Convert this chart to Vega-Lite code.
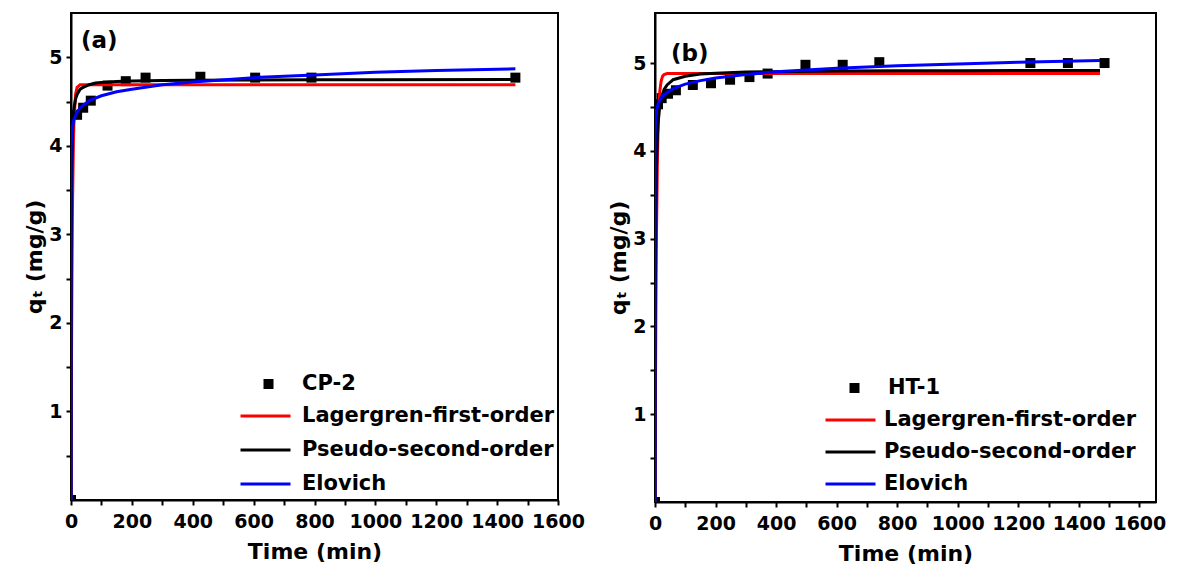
{
  "$schema": "https://vega.github.io/schema/vega-lite/v6.json",
  "background": "white",
  "padding": {"left": 22, "top": 12, "right": 5, "bottom": 5},
  "config": {
    "view": {"stroke": "black", "strokeWidth": 2},
    "axis": {"grid": false, "domainColor": "black", "domainWidth": 2, "tickColor": "black", "tickWidth": 2, "tickSize": 5,
      "labelFont": "DejaVu Sans", "labelFontSize": 19, "labelFontWeight": "bold", "labelColor": "black", "labelPadding": 4,
      "titleFont": "DejaVu Sans", "titleFontSize": 22, "titleFontWeight": "bold", "titleColor": "black",
      "labelFlush": false, "labelOverlap": false},
    "axisY": {"titlePadding": 2},
    "axisX": {"labelPadding": 7, "titlePadding": 10},
    "legend": {"labelFont": "DejaVu Sans", "labelFontSize": 21, "labelFontWeight": "bold", "labelColor": "black", "labelLimit": 0, "clipHeight": 20, "rowPadding": 13},
    "title": {"font": "DejaVu Sans", "fontSize": 23, "fontWeight": "bold", "color": "black"}
  },
  "datasets": {
    "a_pts": [
      {"t": 0, "q": 0, "series": "CP-2"}, {"t": 20, "q": 4.35, "series": "CP-2"}, {"t": 40, "q": 4.43, "series": "CP-2"},
      {"t": 65, "q": 4.51, "series": "CP-2"}, {"t": 120, "q": 4.68, "series": "CP-2"}, {"t": 180, "q": 4.73, "series": "CP-2"},
      {"t": 245, "q": 4.77, "series": "CP-2"}, {"t": 425, "q": 4.78, "series": "CP-2"}, {"t": 605, "q": 4.77, "series": "CP-2"},
      {"t": 790, "q": 4.77, "series": "CP-2"}, {"t": 1460, "q": 4.77, "series": "CP-2"}
    ],
    "a_fit": [
      {"t": 0, "q": 0, "model": "Lagergren-first-order"}, {"t": 1, "q": 1.04, "model": "Lagergren-first-order"},
      {"t": 2, "q": 1.85, "model": "Lagergren-first-order"}, {"t": 3, "q": 2.47, "model": "Lagergren-first-order"},
      {"t": 5, "q": 3.35, "model": "Lagergren-first-order"}, {"t": 8, "q": 4.06, "model": "Lagergren-first-order"},
      {"t": 10, "q": 4.30, "model": "Lagergren-first-order"}, {"t": 15, "q": 4.58, "model": "Lagergren-first-order"},
      {"t": 20, "q": 4.66, "model": "Lagergren-first-order"}, {"t": 30, "q": 4.69, "model": "Lagergren-first-order"},
      {"t": 1460, "q": 4.69, "model": "Lagergren-first-order"},
      {"t": 0, "q": 0, "model": "Pseudo-second-order"}, {"t": 1, "q": 2.74, "model": "Pseudo-second-order"},
      {"t": 2, "q": 3.48, "model": "Pseudo-second-order"}, {"t": 3, "q": 3.82, "model": "Pseudo-second-order"},
      {"t": 5, "q": 4.14, "model": "Pseudo-second-order"}, {"t": 8, "q": 4.35, "model": "Pseudo-second-order"},
      {"t": 10, "q": 4.43, "model": "Pseudo-second-order"}, {"t": 15, "q": 4.53, "model": "Pseudo-second-order"},
      {"t": 20, "q": 4.58, "model": "Pseudo-second-order"}, {"t": 30, "q": 4.64, "model": "Pseudo-second-order"},
      {"t": 40, "q": 4.66, "model": "Pseudo-second-order"}, {"t": 60, "q": 4.69, "model": "Pseudo-second-order"},
      {"t": 80, "q": 4.71, "model": "Pseudo-second-order"}, {"t": 100, "q": 4.715, "model": "Pseudo-second-order"},
      {"t": 150, "q": 4.727, "model": "Pseudo-second-order"}, {"t": 200, "q": 4.733, "model": "Pseudo-second-order"},
      {"t": 300, "q": 4.739, "model": "Pseudo-second-order"}, {"t": 400, "q": 4.741, "model": "Pseudo-second-order"},
      {"t": 600, "q": 4.744, "model": "Pseudo-second-order"}, {"t": 800, "q": 4.746, "model": "Pseudo-second-order"},
      {"t": 1000, "q": 4.747, "model": "Pseudo-second-order"}, {"t": 1460, "q": 4.748, "model": "Pseudo-second-order"},
      {"t": 0, "q": 0, "model": "Elovich"}, {"t": 0.05, "q": 3.70, "model": "Elovich"}, {"t": 0.2, "q": 3.86, "model": "Elovich"},
      {"t": 0.5, "q": 3.96, "model": "Elovich"}, {"t": 1, "q": 4.04, "model": "Elovich"}, {"t": 2, "q": 4.12, "model": "Elovich"},
      {"t": 5, "q": 4.22, "model": "Elovich"}, {"t": 10, "q": 4.30, "model": "Elovich"}, {"t": 20, "q": 4.38, "model": "Elovich"},
      {"t": 30, "q": 4.43, "model": "Elovich"}, {"t": 60, "q": 4.51, "model": "Elovich"}, {"t": 100, "q": 4.565, "model": "Elovich"},
      {"t": 150, "q": 4.61, "model": "Elovich"}, {"t": 200, "q": 4.64, "model": "Elovich"}, {"t": 300, "q": 4.69, "model": "Elovich"},
      {"t": 400, "q": 4.72, "model": "Elovich"}, {"t": 600, "q": 4.77, "model": "Elovich"}, {"t": 800, "q": 4.80, "model": "Elovich"},
      {"t": 1000, "q": 4.83, "model": "Elovich"}, {"t": 1200, "q": 4.85, "model": "Elovich"}, {"t": 1460, "q": 4.87, "model": "Elovich"}
    ],
    "b_pts": [
      {"t": 0, "q": 0, "series": "HT-1"}, {"t": 10, "q": 4.53, "series": "HT-1"}, {"t": 22, "q": 4.60, "series": "HT-1"},
      {"t": 43, "q": 4.65, "series": "HT-1"}, {"t": 69, "q": 4.69, "series": "HT-1"}, {"t": 125, "q": 4.75, "series": "HT-1"},
      {"t": 185, "q": 4.77, "series": "HT-1"}, {"t": 248, "q": 4.81, "series": "HT-1"}, {"t": 312, "q": 4.84, "series": "HT-1"},
      {"t": 372, "q": 4.88, "series": "HT-1"}, {"t": 497, "q": 4.98, "series": "HT-1"}, {"t": 620, "q": 4.98, "series": "HT-1"},
      {"t": 741, "q": 5.01, "series": "HT-1"}, {"t": 1240, "q": 5.00, "series": "HT-1"}, {"t": 1364, "q": 5.00, "series": "HT-1"},
      {"t": 1485, "q": 5.00, "series": "HT-1"}
    ],
    "b_fit": [
      {"t": 0, "q": 0, "model": "Lagergren-first-order"}, {"t": 1, "q": 0.88, "model": "Lagergren-first-order"},
      {"t": 2, "q": 1.61, "model": "Lagergren-first-order"}, {"t": 3, "q": 2.20, "model": "Lagergren-first-order"},
      {"t": 5, "q": 3.08, "model": "Lagergren-first-order"}, {"t": 8, "q": 3.90, "model": "Lagergren-first-order"},
      {"t": 10, "q": 4.22, "model": "Lagergren-first-order"}, {"t": 13, "q": 4.52, "model": "Lagergren-first-order"},
      {"t": 16, "q": 4.68, "model": "Lagergren-first-order"}, {"t": 20, "q": 4.79, "model": "Lagergren-first-order"},
      {"t": 25, "q": 4.85, "model": "Lagergren-first-order"}, {"t": 30, "q": 4.87, "model": "Lagergren-first-order"},
      {"t": 40, "q": 4.88, "model": "Lagergren-first-order"}, {"t": 1470, "q": 4.88, "model": "Lagergren-first-order"},
      {"t": 0, "q": 0, "model": "Pseudo-second-order"}, {"t": 1, "q": 2.03, "model": "Pseudo-second-order"},
      {"t": 2, "q": 2.87, "model": "Pseudo-second-order"}, {"t": 3, "q": 3.33, "model": "Pseudo-second-order"},
      {"t": 5, "q": 3.83, "model": "Pseudo-second-order"}, {"t": 8, "q": 4.17, "model": "Pseudo-second-order"},
      {"t": 10, "q": 4.31, "model": "Pseudo-second-order"}, {"t": 15, "q": 4.49, "model": "Pseudo-second-order"},
      {"t": 20, "q": 4.59, "model": "Pseudo-second-order"}, {"t": 30, "q": 4.70, "model": "Pseudo-second-order"},
      {"t": 40, "q": 4.75, "model": "Pseudo-second-order"}, {"t": 60, "q": 4.81, "model": "Pseudo-second-order"},
      {"t": 80, "q": 4.83, "model": "Pseudo-second-order"}, {"t": 100, "q": 4.85, "model": "Pseudo-second-order"},
      {"t": 150, "q": 4.874, "model": "Pseudo-second-order"}, {"t": 200, "q": 4.885, "model": "Pseudo-second-order"},
      {"t": 300, "q": 4.897, "model": "Pseudo-second-order"}, {"t": 400, "q": 4.902, "model": "Pseudo-second-order"},
      {"t": 600, "q": 4.908, "model": "Pseudo-second-order"}, {"t": 800, "q": 4.911, "model": "Pseudo-second-order"},
      {"t": 1000, "q": 4.913, "model": "Pseudo-second-order"}, {"t": 1470, "q": 4.915, "model": "Pseudo-second-order"},
      {"t": 0, "q": 0, "model": "Elovich"}, {"t": 0.05, "q": 4.00, "model": "Elovich"}, {"t": 0.2, "q": 4.14, "model": "Elovich"},
      {"t": 0.5, "q": 4.23, "model": "Elovich"}, {"t": 1, "q": 4.30, "model": "Elovich"}, {"t": 2, "q": 4.37, "model": "Elovich"},
      {"t": 5, "q": 4.46, "model": "Elovich"}, {"t": 10, "q": 4.53, "model": "Elovich"}, {"t": 20, "q": 4.60, "model": "Elovich"},
      {"t": 30, "q": 4.64, "model": "Elovich"}, {"t": 60, "q": 4.71, "model": "Elovich"}, {"t": 100, "q": 4.76, "model": "Elovich"},
      {"t": 150, "q": 4.80, "model": "Elovich"}, {"t": 200, "q": 4.83, "model": "Elovich"}, {"t": 300, "q": 4.87, "model": "Elovich"},
      {"t": 400, "q": 4.90, "model": "Elovich"}, {"t": 600, "q": 4.94, "model": "Elovich"}, {"t": 800, "q": 4.97, "model": "Elovich"},
      {"t": 1000, "q": 4.99, "model": "Elovich"}, {"t": 1200, "q": 5.01, "model": "Elovich"}, {"t": 1470, "q": 5.03, "model": "Elovich"}
    ]
  },
  "spacing": 20,
  "resolve": {
    "scale": {"x": "independent", "y": "independent", "color": "independent", "shape": "independent"},
    "legend": {"color": "independent", "shape": "independent"}
  },
  "hconcat": [
    {
      "width": 487, "height": 487,
      "title": {"text": "(a)", "anchor": "start", "frame": "group", "offset": -40, "dx": 10},
      "encoding": {
        "x": {"field": "t", "type": "quantitative", "scale": {"domain": [0, 1600], "nice": false},
          "axis": {"title": "Time (min)", "values": [0,100,200,300,400,500,600,700,800,900,1000,1100,1200,1300,1400,1500,1600],
            "labelExpr": "datum.value % 200 === 0 ? '' + datum.value : ''"}},
        "y": {"field": "q", "type": "quantitative", "scale": {"domain": [0, 5.5], "nice": false},
          "axis": {"title": "qₜ (mg/g)", "values": [0.5,1,1.5,2,2.5,3,3.5,4,4.5,5],
            "labelExpr": "datum.value % 1 === 0 && datum.value > 0 ? '' + datum.value : ''"}}
      },
      "layer": [
        {
          "data": {"name": "a_pts"},
          "mark": {"type": "point", "filled": true, "size": 100, "color": "black", "opacity": 1, "clip": true},
          "encoding": {
            "shape": {"field": "series", "type": "nominal", "scale": {"domain": ["CP-2"], "range": ["square"]},
              "legend": {"title": null, "orient": "none", "legendX": 187, "legendY": 361, "labelOffset": 23, "symbolSize": 100,
                "symbolFillColor": "black", "symbolStrokeColor": "black", "symbolOpacity": 1}}
          }
        },
        {
          "data": {"name": "a_fit"},
          "transform": [{"filter": "datum.model === 'Lagergren-first-order'"}],
          "mark": {"type": "line", "strokeWidth": 3, "clip": true},
          "encoding": {
            "color": {"field": "model", "type": "nominal",
              "scale": {"domain": ["Lagergren-first-order", "Pseudo-second-order", "Elovich"], "range": ["#ff0000", "#000000", "#0000ff"]},
              "legend": {"title": null, "orient": "none", "legendX": 168, "legendY": 393, "labelOffset": 10, "symbolType": "stroke",
                "symbolSize": 2500, "symbolStrokeWidth": 3}}
          }
        },
        {
          "data": {"name": "a_fit"},
          "transform": [{"filter": "datum.model === 'Pseudo-second-order'"}],
          "mark": {"type": "line", "strokeWidth": 3, "clip": true},
          "encoding": {
            "color": {"field": "model", "type": "nominal",
              "scale": {"domain": ["Lagergren-first-order", "Pseudo-second-order", "Elovich"], "range": ["#ff0000", "#000000", "#0000ff"]},
              "legend": {"title": null, "orient": "none", "legendX": 168, "legendY": 393, "labelOffset": 10, "symbolType": "stroke",
                "symbolSize": 2500, "symbolStrokeWidth": 3}}
          }
        },
        {
          "data": {"name": "a_fit"},
          "transform": [{"filter": "datum.model === 'Elovich'"}],
          "mark": {"type": "line", "strokeWidth": 3, "clip": true},
          "encoding": {
            "color": {"field": "model", "type": "nominal",
              "scale": {"domain": ["Lagergren-first-order", "Pseudo-second-order", "Elovich"], "range": ["#ff0000", "#000000", "#0000ff"]},
              "legend": {"title": null, "orient": "none", "legendX": 168, "legendY": 393, "labelOffset": 10, "symbolType": "stroke",
                "symbolSize": 2500, "symbolStrokeWidth": 3}}
          }
        }
      ]
    },
    {
      "width": 501, "height": 489,
      "title": {"text": "(b)", "anchor": "start", "frame": "group", "offset": -53, "dx": 16},
      "encoding": {
        "x": {"field": "t", "type": "quantitative", "scale": {"domain": [0, 1655], "nice": false},
          "axis": {"title": "Time (min)", "values": [0,100,200,300,400,500,600,700,800,900,1000,1100,1200,1300,1400,1500,1600],
            "labelExpr": "datum.value % 200 === 0 ? '' + datum.value : ''"}},
        "y": {"field": "q", "type": "quantitative", "scale": {"domain": [0, 5.57], "nice": false},
          "axis": {"title": "qₜ (mg/g)", "values": [0.5,1,1.5,2,2.5,3,3.5,4,4.5,5],
            "labelExpr": "datum.value % 1 === 0 && datum.value > 0 ? '' + datum.value : ''"}}
      },
      "layer": [
        {
          "data": {"name": "b_pts"},
          "mark": {"type": "point", "filled": true, "size": 100, "color": "black", "opacity": 1, "clip": true},
          "encoding": {
            "shape": {"field": "series", "type": "nominal", "scale": {"domain": ["HT-1"], "range": ["square"]},
              "legend": {"title": null, "orient": "none", "legendX": 189, "legendY": 365, "labelOffset": 23, "symbolSize": 100,
                "symbolFillColor": "black", "symbolStrokeColor": "black", "symbolOpacity": 1}}
          }
        },
        {
          "data": {"name": "b_fit"},
          "transform": [{"filter": "datum.model === 'Lagergren-first-order'"}],
          "mark": {"type": "line", "strokeWidth": 3, "clip": true},
          "encoding": {
            "color": {"field": "model", "type": "nominal",
              "scale": {"domain": ["Lagergren-first-order", "Pseudo-second-order", "Elovich"], "range": ["#ff0000", "#000000", "#0000ff"]},
              "legend": {"title": null, "orient": "none", "legendX": 169, "legendY": 397, "labelOffset": 7, "symbolType": "stroke",
                "symbolSize": 2500, "symbolStrokeWidth": 3, "rowPadding": 11}}
          }
        },
        {
          "data": {"name": "b_fit"},
          "transform": [{"filter": "datum.model === 'Pseudo-second-order'"}],
          "mark": {"type": "line", "strokeWidth": 3, "clip": true},
          "encoding": {
            "color": {"field": "model", "type": "nominal",
              "scale": {"domain": ["Lagergren-first-order", "Pseudo-second-order", "Elovich"], "range": ["#ff0000", "#000000", "#0000ff"]},
              "legend": {"title": null, "orient": "none", "legendX": 169, "legendY": 397, "labelOffset": 7, "symbolType": "stroke",
                "symbolSize": 2500, "symbolStrokeWidth": 3, "rowPadding": 11}}
          }
        },
        {
          "data": {"name": "b_fit"},
          "transform": [{"filter": "datum.model === 'Elovich'"}],
          "mark": {"type": "line", "strokeWidth": 3, "clip": true},
          "encoding": {
            "color": {"field": "model", "type": "nominal",
              "scale": {"domain": ["Lagergren-first-order", "Pseudo-second-order", "Elovich"], "range": ["#ff0000", "#000000", "#0000ff"]},
              "legend": {"title": null, "orient": "none", "legendX": 169, "legendY": 397, "labelOffset": 7, "symbolType": "stroke",
                "symbolSize": 2500, "symbolStrokeWidth": 3, "rowPadding": 11}}
          }
        }
      ]
    }
  ]
}
